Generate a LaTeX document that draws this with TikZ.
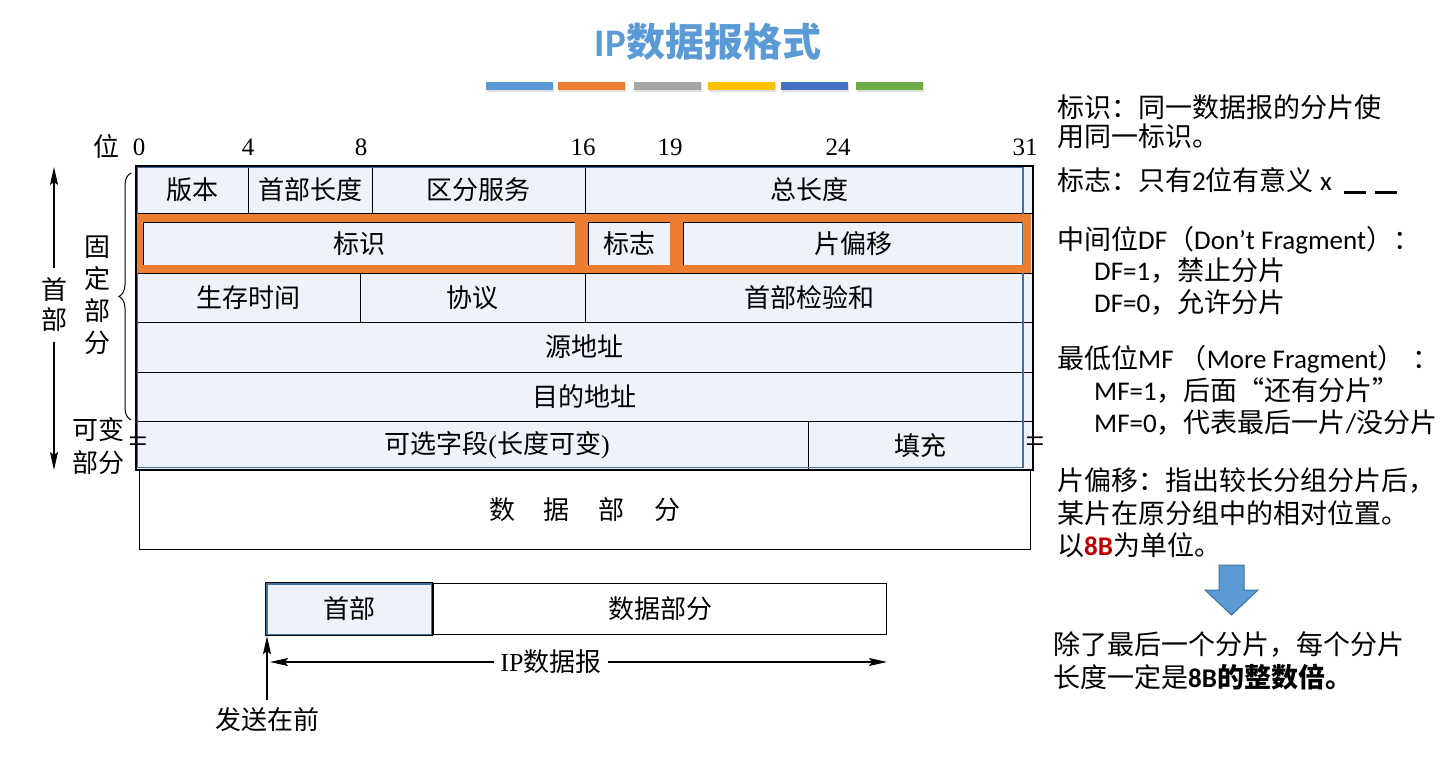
\documentclass[tikz,border=0pt]{standalone}
\usepackage{fontspec}
\setmainfont{Noto Sans CJK SC}
\newfontfamily\lser{Liberation Serif}
\newfontfamily\lsan{Carlito}
\usetikzlibrary{arrows.meta,decorations.pathreplacing}
\definecolor{cellfill}{HTML}{EEF2FA}
\definecolor{framblue}{HTML}{41719C}
\definecolor{hlorange}{HTML}{ED7D31}
\definecolor{titleblue}{HTML}{5B9BD5}
\definecolor{unitred}{HTML}{C00000}
\definecolor{barA}{HTML}{5B9BD5}
\definecolor{barB}{HTML}{ED7D31}
\definecolor{barC}{HTML}{A5A5A5}
\definecolor{barD}{HTML}{FFC000}
\definecolor{barE}{HTML}{4472C4}
\definecolor{barF}{HTML}{70AD47}
\tikzset{
  fld/.style={draw, line width=0.8pt, inner sep=0pt, fill=cellfill, font=\fontsize{26}{26}\selectfont},
  bitlab/.style={inner sep=0pt, font=\lser\fontsize{25}{25}\selectfont},
  note/.style={anchor=west, inner sep=0pt, font=\fontsize{27}{32}\selectfont},
  tip/.style={-{Stealth[length=18pt,width=8pt,inset=3pt]}, line width=1.2pt}
}
\begin{document}
\begin{tikzpicture}[x=1pt, y=-1pt]
    \useasboundingbox (0,0) rectangle (1451,762);
    \fill[white] (0,0) rectangle (1451,762);
    % title and colour bars
    \node[font=\fontsize{39}{39}\selectfont\bfseries, text=titleblue] (title) at (708,42) {{\lsan IP}数据报格式};
    \foreach \xa/\cl in {486/barA,558/barB,634/barC,708/barD,781/barE,856/barF} {
        \fill[black!12] (\xa+1,84) rectangle (\xa+68,92);
        \fill[\cl] (\xa,82) rectangle (\xa+67,90);
    }
    % bit positions
    \node[inner sep=0pt, font=\fontsize{26}{26}\selectfont] (bitpos) at (106,147) {位};
    \foreach \x/\b in {139/0,248/4,361/8,583/16,670/19,838/24,1025/31} {
        \node[bitlab] (b\b) at (\x,147) {\b};
    }
    % header fields
    \fill[cellfill] (136,166) rectangle (1033,470);
    \foreach \nm/\xa/\xb/\ya/\yb/\txt in {ver/136/248/166/213/版本, hlen/248/372/166/213/首部长度,
        tos/372/585/166/213/区分服务, tlen/585/1033/166/213/总长度,
        ident/143/575/222/265/标识, flag/588/670/222/265/标志, foff/683/1023/222/265/片偏移,
        ttl/136/360/273/322/生存时间, proto/360/585/273/322/协议, csum/585/1033/273/322/首部检验和,
        src/136/1033/322/372/源地址, dst/136/1033/372/421/目的地址,
        opt/136/808/421/470/\hspace*{50pt}可选字段{\lser(}长度可变{\lser)}, pad/808/1033/421/470/填充} {
        \node[fld, minimum width={(\xb-\xa)*1pt}, minimum height={(\yb-\ya)*1pt}] (\nm) at ({(\xa+\xb)/2},{(\ya+\yb)/2}) {\txt};
    }
    \draw[framblue, line width=1.5pt] (137,167) rectangle (1023,467.5);
    \foreach \nm in {ident,flag,foff} {
        \draw[hlorange, line width=7.5pt] ([xshift=-3.8pt,yshift=3.8pt]\nm.north west) rectangle ([xshift=3.8pt,yshift=-3.8pt]\nm.south east);
    }
    \draw[line width=2.2pt] (136,166) rectangle (1033,470);
    \node[draw, line width=0.8pt, minimum width=891pt, minimum height=79pt, inner sep=0pt, font=\fontsize{26}{26}\selectfont] (data) at (584.5,509.5) {数\hspace{29pt}据\hspace{29pt}部\hspace{29pt}分};
    \node[inner sep=0pt, font=\lser\fontsize{34}{34}\selectfont] (brkl) at (138,445) {=};
    \node[inner sep=0pt, font=\lser\fontsize{34}{34}\selectfont] (brkr) at (1035,445) {=};
    % left side labels
    \draw[line width=1pt, decorate, decoration={brace, amplitude=12pt}] (131,420) -- (131,173);
    \node[inner sep=0pt, align=center, font=\fontsize{26}{32}\selectfont] (fixlab) at (97,295) {固\\定\\部\\分};
    \node[inner sep=0pt, align=center, font=\fontsize{26}{33}\selectfont] (varlab) at (98,446) {可变\\部分};
    \node[inner xsep=0pt, inner ysep=10pt, align=center, font=\fontsize{26}{30}\selectfont] (hdlab) at (54,305) {首\\部};
    \coordinate (hdtop) at (54,167);
    \coordinate (hdbot) at (54,470);
    \draw[tip] (hdlab.north) -- (hdtop);
    \draw[tip] (hdlab.south) -- (hdbot);
    % datagram overview
    \node[draw, line width=2.4pt, fill=cellfill, minimum width=166pt, minimum height=52pt, inner sep=0pt, font=\fontsize{26}{26}\selectfont] (hdbox) at (349,609) {首部};
    \draw[framblue, line width=1.4pt] ([xshift=2pt,yshift=-2pt]hdbox.north west) rectangle ([xshift=-2pt,yshift=2pt]hdbox.south east);
    \node[draw, line width=1pt, anchor=west, minimum width=453pt, minimum height=51pt, inner sep=0pt, font=\fontsize{26}{26}\selectfont] (databox) at (hdbox.east) {数据部分};
    \node[inner xsep=6pt, font=\fontsize{26}{26}\selectfont] (iplab) at (551,662) {{\lser IP}数据报};
    \coordinate (ipl) at (270,662);
    \coordinate (ipr) at (887,662);
    \draw[tip] (iplab.west) -- (ipl);
    \draw[tip] (iplab.east) -- (ipr);
    \node[inner ysep=8pt, font=\fontsize{26}{26}\selectfont] (sendlab) at (267,720) {发送在前};
    \draw[tip] (sendlab.north) -- (sendlab.north |- hdbox.south);
    % notes on the right
    \node[note] (idn1) at (1057,107) {标识：同一数据报的分片使};
    \node[note] (idn2) at (1057,136) {用同一标识。};
    \node[note] (flagn) at (1057,181) {标志：只有{\lsan 2}位有意义{\lsan\ x}\hspace{12pt}\rule[-4pt]{22pt}{3pt}\hspace{9pt}\rule[-4pt]{22pt}{3pt}};
    \node[note] (dfn0) at (1057,240) {中间位{\lsan DF}（{\lsan Don’t Fragment}）：};
    \node[note] (dfn1) at (1094,271) {{\lsan DF=1}，禁止分片};
    \node[note] (dfn2) at (1094,303) {{\lsan DF=0}，允许分片};
    \node[note] (mfn0) at (1057,359) {最低位{\lsan MF }（{\lsan More Fragment}）\hspace{8pt}：};
    \node[note] (mfn1) at (1094,391) {{\lsan MF=1}，后面“还有分片”};
    \node[note] (mfn2) at (1094,423) {{\lsan MF=0}，代表最后一片{\lsan /}没分片};
    \node[note] (offn1) at (1057,481) {片偏移：指出较长分组分片后，};
    \node[note] (offn2) at (1057,513) {某片在原分组中的相对位置。};
    \node[note] (offn3) at (1057,545) {以{\lsan\bfseries\color{unitred}8B}为单位。};
    \filldraw[fill=titleblue, draw=framblue, line width=1pt] (1219,565) -- (1244,565) -- (1244,590) -- (1258,590) -- (1231.5,615) -- (1205,590) -- (1219,590) -- cycle;
    \node[note] (resn1) at (1053,645) {除了最后一个分片，每个分片};
    \node[note] (resn2) at (1053,677) {长度一定是{\lsan\bfseries 8B}{\bfseries 的整数倍。}};
\end{tikzpicture}
\end{document}
